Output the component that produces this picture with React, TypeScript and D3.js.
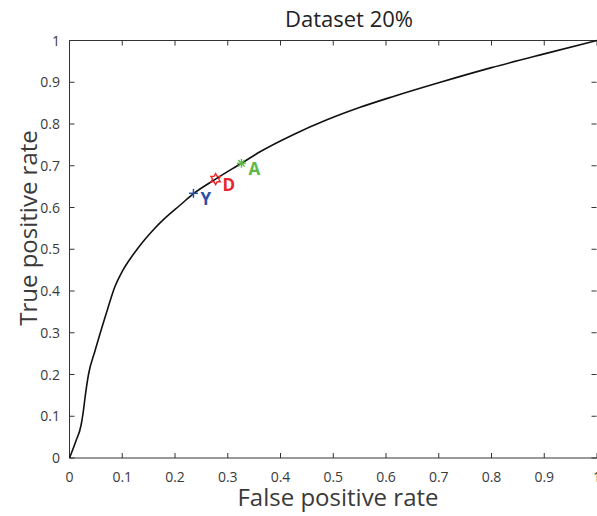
import React from "react";
import * as d3 from "d3";

const fpr = [0, 0.012, 0.022, 0.026, 0.03, 0.036, 0.048, 0.062, 0.073, 0.086, 0.1, 0.1155, 0.13, 0.144, 0.16, 0.179, 0.21, 0.235, 0.277, 0.326, 0.362, 0.425, 0.488, 0.551, 0.614, 0.703, 0.8, 0.9, 1];
const tpr = [0, 0.04, 0.079, 0.11, 0.15, 0.2, 0.255, 0.315, 0.36, 0.41, 0.447, 0.478, 0.503, 0.525, 0.548, 0.572, 0.606, 0.633, 0.668, 0.706, 0.734, 0.775, 0.81, 0.84, 0.866, 0.9, 0.935, 0.968, 1];

const pointNames = ["Y", "D", "A"];
const pointFpr = [0.235, 0.277, 0.326];
const pointTpr = [0.634, 0.668, 0.706];
const pointColors = ["#2B4FA2", "#E8262B", "#5DB947"];
const pointShapes = ["plus", "hexagram", "asterisk"];

const ticks = [0, 0.1, 0.2, 0.3, 0.4, 0.5, 0.6, 0.7, 0.8, 0.9, 1];
const tickLabels = ["0", "0.1", "0.2", "0.3", "0.4", "0.5", "0.6", "0.7", "0.8", "0.9", "1"];

const W = 597, H = 516;
const L = 69.5, R = 597, T = 40.5, B = 458;
const font = "'Open Sans', 'Noto Sans', sans-serif";
const axisColor = "#333";

function marker(shape: string, x: number, y: number, color: string) {
  const s = 4.5;
  if (shape === "plus") {
    return (
      <g stroke={color} strokeWidth={1.5}>
        <line x1={x - s} y1={y} x2={x + s} y2={y} />
        <line x1={x} y1={y - s} x2={x} y2={y + s} />
      </g>
    );
  }
  if (shape === "asterisk") {
    const d = s * 0.72;
    return (
      <g stroke={color} strokeWidth={1.4}>
        <line x1={x - s} y1={y} x2={x + s} y2={y} />
        <line x1={x} y1={y - s} x2={x} y2={y + s} />
        <line x1={x - d} y1={y - d} x2={x + d} y2={y + d} />
        <line x1={x - d} y1={y + d} x2={x + d} y2={y - d} />
      </g>
    );
  }
  const r = 5.4;
  const pts: number[][] = [];
  for (let i = 0; i < 6; i++) {
    const a = (i * Math.PI) / 3;
    pts.push([x + r * Math.sin(a), y - r * Math.cos(a)]);
    const b = a + Math.PI / 6;
    const ri = r / Math.sqrt(3);
    pts.push([x + ri * Math.sin(b), y - ri * Math.cos(b)]);
  }
  return <polygon points={pts.map((p) => p.join(",")).join(" ")} fill="none" stroke={color} strokeWidth={1.4} />;
}

export default function App() {
  const x = d3.scaleLinear().domain([0, 1]).range([L, R]);
  const y = d3.scaleLinear().domain([0, 1]).range([B, T]);
  const line = d3
    .line<number>()
    .x((_, i) => x(fpr[i]))
    .y((_, i) => y(tpr[i]))
    .curve(d3.curveMonotoneX);
  const tl = 5;
  return (
    <svg width={W} height={H} style={{ position: "absolute", left: 0, top: 0, background: "#fff" }}>
      <defs>
        <clipPath id="clip">
          <rect x={L - 2} y={T - 2} width={R - L + 4} height={B - T + 4} />
        </clipPath>
      </defs>
      <g stroke={axisColor} strokeWidth={1} fill="none">
        <line x1={L} y1={T} x2={W} y2={T} />
        <line x1={L} y1={B} x2={W} y2={B} />
        <line x1={L} y1={T} x2={L} y2={B} />
        {ticks.map((t, i) => (
          <g key={"t" + i}>
            <line x1={x(t)} y1={B} x2={x(t)} y2={B - tl} />
            <line x1={x(t)} y1={T} x2={x(t)} y2={T + tl} />
            <line x1={L} y1={y(t)} x2={L + tl} y2={y(t)} />
            <line x1={R - 0.5} y1={y(t)} x2={R - 0.5 - tl} y2={y(t)} />
          </g>
        ))}
      </g>
      <g fontFamily={font} fontSize={14} fill="#3a3a3a">
        {ticks.map((t, i) => (
          <text key={"xl" + i} x={x(t)} y={482} textAnchor="middle">{tickLabels[i]}</text>
        ))}
        {ticks.map((t, i) => (
          <text key={"yl" + i} x={60} y={y(t) + 5} textAnchor="end">{tickLabels[i]}</text>
        ))}
      </g>
      <g clipPath="url(#clip)">
        <path d={line(fpr) || ""} fill="none" stroke="#111" strokeWidth={1.6} />
      </g>
      {pointNames.map((n, i) => (
        <g key={n}>
          {marker(pointShapes[i], x(pointFpr[i]), y(pointTpr[i]), pointColors[i])}
          <text x={x(pointFpr[i]) + 7} y={y(pointTpr[i]) + 12} fontFamily={font} fontWeight="bold" fontSize={17} fill={pointColors[i]}>{n}</text>
        </g>
      ))}
      <text x={349} y={27} textAnchor="middle" fontFamily={font} fontSize={22} fill="#222">Dataset 20%</text>
      <text x={338} y={506} textAnchor="middle" fontFamily={font} fontSize={24} fill="#3a3a3a">False positive rate</text>
      <text transform={`translate(37,${228}) rotate(-90)`} textAnchor="middle" fontFamily={font} fontSize={24} fill="#3a3a3a">True positive rate</text>
    </svg>
  );
}
